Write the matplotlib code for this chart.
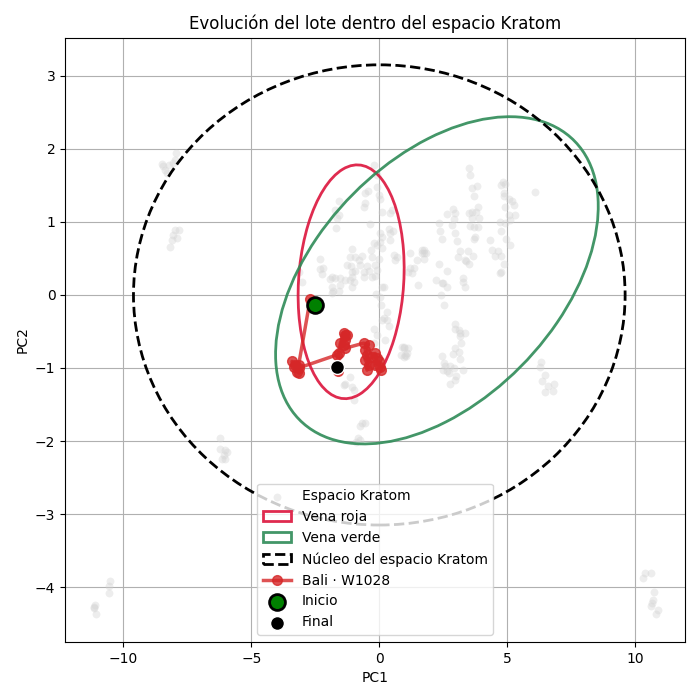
import matplotlib
matplotlib.use("Agg")
import matplotlib.pyplot as plt
from matplotlib.patches import Ellipse

# ---- Background "Espacio Kratom" points (PC1, PC2) ----
space_pc1 = [
    -7.93, -8.49, -8.43, -8.36, -8.29, -8.23, -8.04, -7.97,
    -7.97, -7.84, -8.04, -7.90, -8.10, -8.16,
    -6.21, -6.21, -6.02, -5.95, -6.08, -6.02, -6.14,
    -10.51, -10.54, -10.57, -11.09, -11.16, -11.16, -11.07,
    10.36, 10.63, 10.29, 10.74, 10.68, 10.65, 10.63, 10.87, 10.82,
    3.49, 3.55, 3.62, 3.82, 3.68, 4.82, 4.92, 4.77, 4.86, 4.88, 5.05, 5.18, 5.25, 4.92,
    6.09, 3.84, 3.79, 3.62, 3.49, 2.86, 2.97, 2.64, 2.90, 3.88, 3.62, 5.05, 5.31, 5.12,
    4.73, 4.92, 2.32, 2.84, 3.53, 3.68, 3.84, 2.38, 4.77, 2.94, 3.75, 3.71, 2.45, 4.31,
    4.96, 3.04, 5.09, 4.40, 3.14, 3.46, 4.62, 1.73, 1.67, 1.82, 1.18, 3.07, 3.66, 4.53,
    4.75, 1.47, 1.73, 3.36, 3.40, 3.52, 4.86, 2.32, 1.21, 1.37, 1.14, 1.28, 2.64, 4.75,
    4.70, 3.25, 3.25, 2.23, 2.45, 2.49, 1.50, 2.64, 3.36, 2.41,
    2.51, 2.97, 2.94, 3.10, 3.14, 3.36, 3.16, 3.19, 0.95, 1.14, 1.08, 0.95, 1.05, 2.97,
    3.10, 2.86, 2.45, 3.16, 2.51, 2.58, 2.77, 2.90, 2.47, 2.64, 2.71, 3.25, 3.01, 2.94,
    2.77, 6.33, 6.29, 6.46, 6.36, 6.57, 6.81, 6.46, 6.77,
    -1.79, -1.59, -0.12, 0.04, 0.08, 0.32, 0.20, 0.30, 0.11, 0.36, -0.22, -0.09, 0.23,
    -0.22, 0.89, 0.98, 0.85, 1.02, -1.13, -1.33, -1.39, -1.07, -1.00, -0.98, -0.68,
    -0.55, -0.74, -0.85, -0.90, -0.74,
    -0.22, -0.09, -0.46, -0.55, -0.09, -0.03, 0.01, -1.59, -1.72, -0.55, -0.59, 0.11,
    0.50, 0.43, -1.59, -1.65, -1.68, -0.35, 0.01, 0.36, 0.43, 0.54, 0.11, -0.22, -0.09,
    0.43, 0.04, -1.07, -0.32, 0.11, 0.56, 0.69, 1.67, 1.76, -2.30, -1.13, -0.94, -0.68,
    -0.81, -0.29, -0.03, 0.63, -2.30, -2.18, -2.24, -1.26, -1.09, -0.74, -0.48, -0.16,
    -0.42, -0.09, -1.07, -0.94, -0.61, -1.07, -0.16, -0.29, -0.61, -1.85, -1.72, -1.91,
    -1.52, -1.33, -1.13, -1.00, -1.55, -1.85, -1.07, 0.11, 0.20, -3.02, -3.15, -1.85,
]
space_pc2 = [
    1.94, 1.79, 1.76, 1.71, 1.67, 1.78, 1.80, 1.85,
    0.89, 0.89, 0.82, 0.78, 0.75, 0.66,
    -1.96, -2.11, -2.12, -2.15, -2.19, -2.24, -2.25,
    -3.91, -3.98, -4.08, -4.24, -4.27, -4.29, -4.37,
    -3.80, -3.81, -3.88, -4.07, -4.17, -4.22, -4.26, -4.32, -4.37,
    1.74, 1.64, 1.46, 1.49, 1.36, 1.54, 1.52, 1.51, 1.40, 1.35, 1.32, 1.28, 1.23, 1.20,
    1.41, 1.21, 1.13, 1.13, 1.12, 1.17, 1.12, 1.11, 1.04, 1.05, 1.05, 1.10, 1.09, 1.03,
    1.00, 0.98, 0.98, 0.96, 0.94, 0.93, 0.93, 0.87, 0.87, 0.85, 0.79, 0.76, 0.76, 0.75,
    0.76, 0.74, 0.68, 0.62, 0.60, 0.60, 0.60, 0.61, 0.57, 0.57, 0.57, 0.52, 0.53, 0.53,
    0.53, 0.48, 0.49, 0.48, 0.46, 0.42, 0.43, 0.42, 0.37, 0.37, 0.31, 0.30, 0.33, 0.32,
    0.30, 0.23, 0.18, 0.21, 0.17, 0.16, 0.14, 0.11, 0.11, 0.00,
    -0.14, -0.40, -0.46, -0.48, -0.52, -0.52, -0.56, -0.66, -0.71, -0.72, -0.80, -0.85, -0.84, -0.72,
    -0.78, -0.81, -0.84, -0.88, -0.93, -0.97, -0.97, -1.00, -1.03, -1.04, -1.07, -1.03, -1.11, -1.16,
    -1.22, -0.92, -0.98, -1.09, -1.18, -1.24, -1.22, -1.33, -1.32,
    0.05, 0.06, 0.01, -0.03, -0.14, -0.23, -0.32, -0.34, -0.35, -0.42, -0.46, -0.55, -0.62,
    -0.66, -0.71, -0.72, -0.82, -0.82, -1.13, -1.22, -1.23, -1.26, -1.30, -1.44, -1.76,
    -1.76, -1.80, -1.96, -2.01, -1.99,
    1.78, 1.64, 1.42, 1.39, 1.48, 1.37, 1.31, 1.28, 1.16, 1.26, 1.21, 1.13,
    1.16, 1.12, 1.10, 1.05, 0.91, 0.97, 0.85, 0.90, 0.85, 0.87, 0.79, 0.71, 0.68,
    0.75, 0.72, 0.63, 0.62, 0.64, 0.55, 0.52, 0.62, 0.57, 0.49, 0.52, 0.52, 0.53,
    0.48, 0.52, 0.49, 0.48, 0.36, 0.37, 0.29, 0.41, 0.40, 0.41, 0.39, 0.41,
    0.33, 0.34, 0.32, 0.33, 0.32, 0.25, 0.26, 0.24, 0.24, 0.25, 0.23, 0.22,
    0.23, 0.21, 0.20, 0.18, 0.14, 0.11, 0.11, 0.11, 0.11, 0.18, 0.32, 0.02,
]

# ---- Batch trajectory "Bali · W1028" ----
traj_pc1 = [-2.70,
            -3.15, -3.41, -3.35, -3.28, -3.21, -3.13, -3.15,
            -1.65, -1.60,
            -1.59, -1.52, -1.39, -1.33, -1.26, -1.33, -1.39, -1.33,
            -0.61, -0.42, -0.55, -0.48, -0.55, -0.42, -0.48, -0.29, -0.16, -0.09,
            -0.16, -0.03, 0.04, 0.06]
traj_pc2 = [-0.06,
            -0.96, -0.91, -0.98, -0.96, -1.05, -1.07, -1.00,
            -0.82, -1.04,
            -0.80, -0.66, -0.52, -0.55, -0.55, -0.62, -0.68, -0.73,
            -0.66, -0.68, -0.75, -0.82, -0.89, -0.96, -1.03, -0.85, -0.80, -0.87,
            -0.96, -0.91, -0.98, -1.03]
start_point = (-2.53, -0.14)
end_point = (-1.65, -0.99)

# ---- Ellipses: center, width, height, angle ----
ellipse_labels = ["Vena roja", "Vena verde", "Núcleo del espacio Kratom"]
ellipse_centers = [(-1.10, 0.18), (2.25, 0.20), (0.0, 0.0)]
ellipse_widths = [4.18, 12.78, 19.2]
ellipse_heights = [3.15, 3.94, 6.3]
ellipse_angles = [11.9, 10.1, 0.0]
ellipse_colors = ["crimson", "seagreen", "black"]
ellipse_alphas = [0.9, 0.9, 1.0]
ellipse_styles = ["-", "-", "--"]

fig = plt.figure(figsize=(7, 7), dpi=100)
ax = fig.add_axes([0.093, 0.083, 0.886, 0.863])

ax.scatter(space_pc1, space_pc2, s=32, color="lightgray", alpha=0.4,
           linewidths=0, label="Espacio Kratom", zorder=1)

for c, w, h, a, col, al, ls, lab in zip(ellipse_centers, ellipse_widths, ellipse_heights,
                                         ellipse_angles, ellipse_colors, ellipse_alphas,
                                         ellipse_styles, ellipse_labels):
    ax.add_patch(Ellipse(c, w, h, angle=a, fill=False, edgecolor=col, alpha=al,
                         linestyle=ls, linewidth=2, label=lab, zorder=2))

ax.plot(traj_pc1, traj_pc2, "-o", color="#d62728", alpha=0.8, linewidth=2.5,
        markersize=7, label="Bali · W1028", zorder=3)
ax.scatter([start_point[0]], [start_point[1]], s=130, color="green",
           edgecolors="black", linewidths=2, label="Inicio", zorder=4)
ax.scatter([end_point[0]], [end_point[1]], s=100, color="black",
           edgecolors="white", linewidths=1, label="Final", zorder=4)

ax.set_xlim(-12.27, 11.95)
ax.set_ylim(-4.75, 3.52)
ax.set_xticks([-10, -5, 0, 5, 10])
ax.set_yticks([-4, -3, -2, -1, 0, 1, 2, 3])
ax.grid(True)
ax.set_axisbelow(True)
ax.set_title("Evolución del lote dentro del espacio Kratom")
ax.set_xlabel("PC1")
ax.set_ylabel("PC2")
ax.legend(loc="lower center")

fig.savefig("out.png", dpi=100)
